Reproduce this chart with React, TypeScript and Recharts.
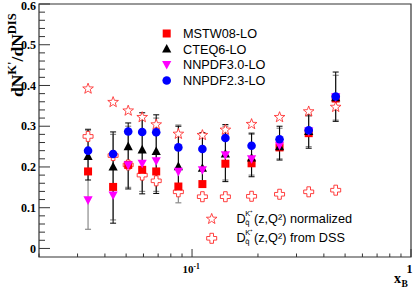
import React from 'react';
import { ScatterChart, Scatter, XAxis, YAxis, ErrorBar, ReferenceArea } from 'recharts';

// x_B bins
const xB = [0.0335, 0.0436, 0.0511, 0.0592, 0.0686, 0.0866, 0.1115, 0.142, 0.187, 0.251, 0.341, 0.453];

// dN^K/dN^DIS for each PDF set
const mstw08 = [0.189, 0.151, 0.205, 0.193, 0.189, 0.152, 0.158, 0.208, 0.209, 0.248, 0.283, 0.368];
const cteq6 = [0.226, 0.2, 0.25, 0.242, 0.238, 0.201, 0.197, 0.232, 0.222, 0.25, 0.287, 0.37];
const nnpdf30 = [0.119, 0.131, 0.205, 0.209, 0.215, 0.189, 0.193, 0.23, 0.22, 0.253, 0.288, 0.372];
const nnpdf23 = [0.24, 0.232, 0.287, 0.286, 0.285, 0.248, 0.244, 0.271, 0.252, 0.268, 0.29, 0.373];

// fragmentation function curves (markers only)
const dssNormalized = [0.392, 0.359, 0.338, 0.322, 0.304, 0.281, 0.278, 0.291, 0.305, 0.322, 0.336, 0.347];
const dssRaw = [0.275, 0.228, 0.205, 0.18, 0.166, 0.139, 0.127, 0.127, 0.128, 0.133, 0.139, 0.143];

// error bar ends (absolute values)
const blackLow = [0.168, 0.062, 0.146, 0.134, 0.135, 0.14, 0.156, 0.164, 0.176, 0.217, 0.246, 0.312];
const blackHigh = [0.291, 0.286, 0.308, 0.333, 0.328, 0.3, 0.284, 0.304, 0.283, 0.3, 0.328, 0.433];
const greyLow = [0.047, 0.07, 0.15, 0.14, 0.14, 0.112, 0.16, 0.168, 0.18, 0.22, 0.25, 0.315];
const greyHigh = [0.293, 0.28, 0.3, 0.325, 0.32, 0.303, 0.28, 0.3, 0.28, 0.295, 0.325, 0.425];

const xTicks = [0.02, 0.03, 0.04, 0.05, 0.06, 0.07, 0.08, 0.09, 0.1, 0.2, 0.3, 0.4, 0.5, 0.6, 0.7, 0.8, 0.9, 1];
const yTicks = [
  0, 0.02, 0.04, 0.06, 0.08, 0.1, 0.12, 0.14, 0.16, 0.18, 0.2, 0.22, 0.24, 0.26, 0.28, 0.3,
  0.32, 0.34, 0.36, 0.38, 0.4, 0.42, 0.44, 0.46, 0.48, 0.5, 0.52, 0.54, 0.56, 0.58, 0.6,
];
const yLabels = ['0', '0.1', '0.2', '0.3', '0.4', '0.5', '0.6'];

const SERIF = '"Liberation Serif", "Times New Roman", serif';
const SANS = '"Liberation Sans", Arial, sans-serif';
const RED = '#ff0000';
const STAR_RED = '#ff2a2a';

const withErr = (vals: number[], lo: number[], hi: number[]) =>
  xB.map((x, i) => ({ x, y: vals[i], err: [vals[i] - lo[i], hi[i] - vals[i]] }));
const plain = (vals: number[]) => xB.map((x, i) => ({ x, y: vals[i] }));

const mstwData = withErr(mstw08, greyLow, greyHigh);
const cteqData = withErr(cteq6, blackLow, blackHigh);
const nn30Data = plain(nnpdf30);
const nn23Data = plain(nnpdf23);
const normData = plain(dssNormalized);
const rawData = plain(dssRaw);

const starPoints = (cx: number, cy: number, ro: number, ri: number) => {
  const pts: string[] = [];
  for (let k = 0; k < 10; k++) {
    const r = k % 2 === 0 ? ro : ri;
    const a = -Math.PI / 2 + (k * Math.PI) / 5;
    pts.push(`${cx + r * Math.cos(a)},${cy + r * Math.sin(a)}`);
  }
  return pts.join(' ');
};

const crossPoints = (cx: number, cy: number, l: number, w: number) =>
  [
    [-w, -l], [w, -l], [w, -w], [l, -w], [l, w], [w, w], [w, l], [-w, l], [-w, w], [-l, w], [-l, -w], [-w, -w],
  ]
    .map(([dx, dy]) => `${cx + dx},${cy + dy}`)
    .join(' ');

const Square = (p: any) => <rect x={p.cx - 4} y={p.cy - 4} width={8} height={8} fill={RED} />;
const TriUp = (p: any) => (
  <polygon points={`${p.cx},${p.cy - 5} ${p.cx - 4.6},${p.cy + 3.6} ${p.cx + 4.6},${p.cy + 3.6}`} fill="#000" />
);
const TriDown = (p: any) => (
  <polygon points={`${p.cx},${p.cy + 5} ${p.cx - 4.6},${p.cy - 3.6} ${p.cx + 4.6},${p.cy - 3.6}`} fill="#ff00ff" />
);
const Dot = (p: any) => <circle cx={p.cx} cy={p.cy} r={4.3} fill="#0000ff" />;
const Star = (p: any) => (
  <polygon points={starPoints(p.cx, p.cy, 5.6, 2.3)} fill="#fff" stroke={STAR_RED} strokeWidth={0.85} />
);
const Cross = (p: any) => (
  <polygon points={crossPoints(p.cx, p.cy, 5, 1.8)} fill="#fff" stroke={STAR_RED} strokeWidth={0.9} />
);

const XTick = (props: any) => {
  const { x, y, payload } = props;
  const v = Number(payload.value);
  const isTenth = Math.abs(v - 0.1) < 1e-9;
  const isOne = Math.abs(v - 1) < 1e-9;
  return (
    <g>
      <line x1={x} x2={x} y1={y} y2={y - (isTenth || isOne ? 8 : 3.5)} stroke="#333" strokeWidth={1} />
      {isTenth && (
        <text x={x - 1} y={y + 15.5} textAnchor="middle" fontFamily={SERIF} fontWeight="bold" fontSize={11} fill="#000">
          10
          <tspan dy={-4} fontSize={7.5}>-1</tspan>
        </text>
      )}
      {isOne && (
        <text x={x - 1.5} y={y + 16} textAnchor="middle" fontFamily={SERIF} fontWeight="bold" fontSize={12} fill="#000">
          1
        </text>
      )}
    </g>
  );
};

const YTick = (props: any) => {
  const { x, y, payload } = props;
  const v = payload.value;
  const idx = Math.round(v * 50);
  const major = idx % 5 === 0;
  const top = idx === 30;
  return (
    <g>
      <line x1={x} x2={x + (major ? 11 : 6)} y1={y} y2={y} stroke="#333" strokeWidth={1} />
      {major && (
        <text
          x={x - 3}
          y={y + (top ? 1.5 : 0)}
          dy="0.35em"
          textAnchor="end"
          fontFamily={SERIF}
          fontWeight="bold"
          fontSize={12}
          fill="#000"
        >
          {yLabels[idx / 5]}
        </text>
      )}
    </g>
  );
};

const legendRows = [
  { label: 'MSTW08-LO', y: 33.5, shape: Square },
  { label: 'CTEQ6-LO', y: 49, shape: TriUp },
  { label: 'NNPDF3.0-LO', y: 64.5, shape: TriDown },
  { label: 'NNPDF2.3-LO', y: 80.5, shape: Dot },
];

const Overlay = () => (
  <svg width={415} height={288} style={{ position: 'absolute', left: 0, top: 0, pointerEvents: 'none' }}>
    {/* y axis title */}
    <text transform="translate(23,97) rotate(-90)" fontFamily={SERIF} fontWeight="bold" fontSize={17.5} fill="#000">
      dN
      <tspan dy={-7} fontSize={12.5}>K'</tspan>
      <tspan dy={7} fontSize={17.5}>/dN</tspan>
      <tspan dy={-7} fontSize={12.5}>DIS</tspan>
    </text>
    {/* x axis title */}
    <text x={394} y={283} fontFamily={SERIF} fontWeight="bold" fontSize={14} fill="#000">
      x
    </text>
    <text x={401.5} y={287} fontFamily={SERIF} fontWeight="bold" fontSize={9.5} fill="#000">
      B
    </text>
    {/* PDF legend */}
    {legendRows.map((r) => (
      <g key={r.label}>
        {r.shape({ cx: 166.7, cy: r.y })}
        <text x={183} y={r.y + 4.5} fontFamily={SANS} fontSize={12.7} fill="#000">
          {r.label}
        </text>
      </g>
    ))}
    {/* FF legend */}
    {Star({ cx: 211.7, cy: 219 })}
    {Cross({ cx: 211.7, cy: 238.3 })}
    {[
      { y: 222.5, text: 'normalized' },
      { y: 241.5, text: 'from DSS' },
    ].map((r) => (
      <g key={r.text} fontFamily={SANS} fill="#000">
        <text x={236.5} y={r.y} fontSize={12.7}>D</text>
        <text x={245.3} y={r.y - 6.5} fontSize={7.5}>K⁺</text>
        <text x={245.3} y={r.y + 2.5} fontSize={7.5}>q̄</text>
        <text x={254} y={r.y} fontSize={12.7}>
          (z,Q²) {r.text}
        </text>
      </g>
    ))}
  </svg>
);

export default function App() {
  return (
    <div style={{ position: 'absolute', left: 0, top: 0, width: 415, height: 288, background: '#fff' }}>
      <ScatterChart width={415} height={288} margin={{ top: 4, right: 4, bottom: 0, left: 0 }}>
        <XAxis
          dataKey="x"
          type="number"
          scale="log"
          domain={[0.02, 1]}
          ticks={xTicks}
          interval={0}
          allowDataOverflow
          height={31}
          tickSize={0}
          tickMargin={0}
          tickLine={false}
          axisLine={false}
          tick={<XTick />}
        />
        <YAxis
          dataKey="y"
          type="number"
          domain={[-0.021, 0.6]}
          ticks={yTicks}
          interval={0}
          allowDataOverflow
          width={39}
          tickSize={0}
          tickMargin={0}
          tickLine={false}
          axisLine={false}
          tick={<YTick />}
        />
        <ReferenceArea x1={0.02} x2={1} y1={-0.021} y2={0.6} fill="none" stroke="#333" strokeWidth={1.2} ifOverflow="visible" />
        <Scatter name="DSS" data={rawData} shape={Cross} isAnimationActive={false} />
        <Scatter name="normalized" data={normData} shape={Star} isAnimationActive={false} />
        <Scatter name="MSTW08-LO" data={mstwData} shape={Square} isAnimationActive={false}>
          <ErrorBar dataKey="err" direction="y" width={3} stroke="#8a8a8a" strokeWidth={1.2} />
        </Scatter>
        <Scatter name="CTEQ6-LO" data={cteqData} shape={TriUp} isAnimationActive={false}>
          <ErrorBar dataKey="err" direction="y" width={3} stroke="#000" strokeWidth={1} />
        </Scatter>
        <Scatter name="NNPDF3.0-LO" data={nn30Data} shape={TriDown} isAnimationActive={false} />
        <Scatter name="NNPDF2.3-LO" data={nn23Data} shape={Dot} isAnimationActive={false} />
      </ScatterChart>
      <Overlay />
    </div>
  );
}
